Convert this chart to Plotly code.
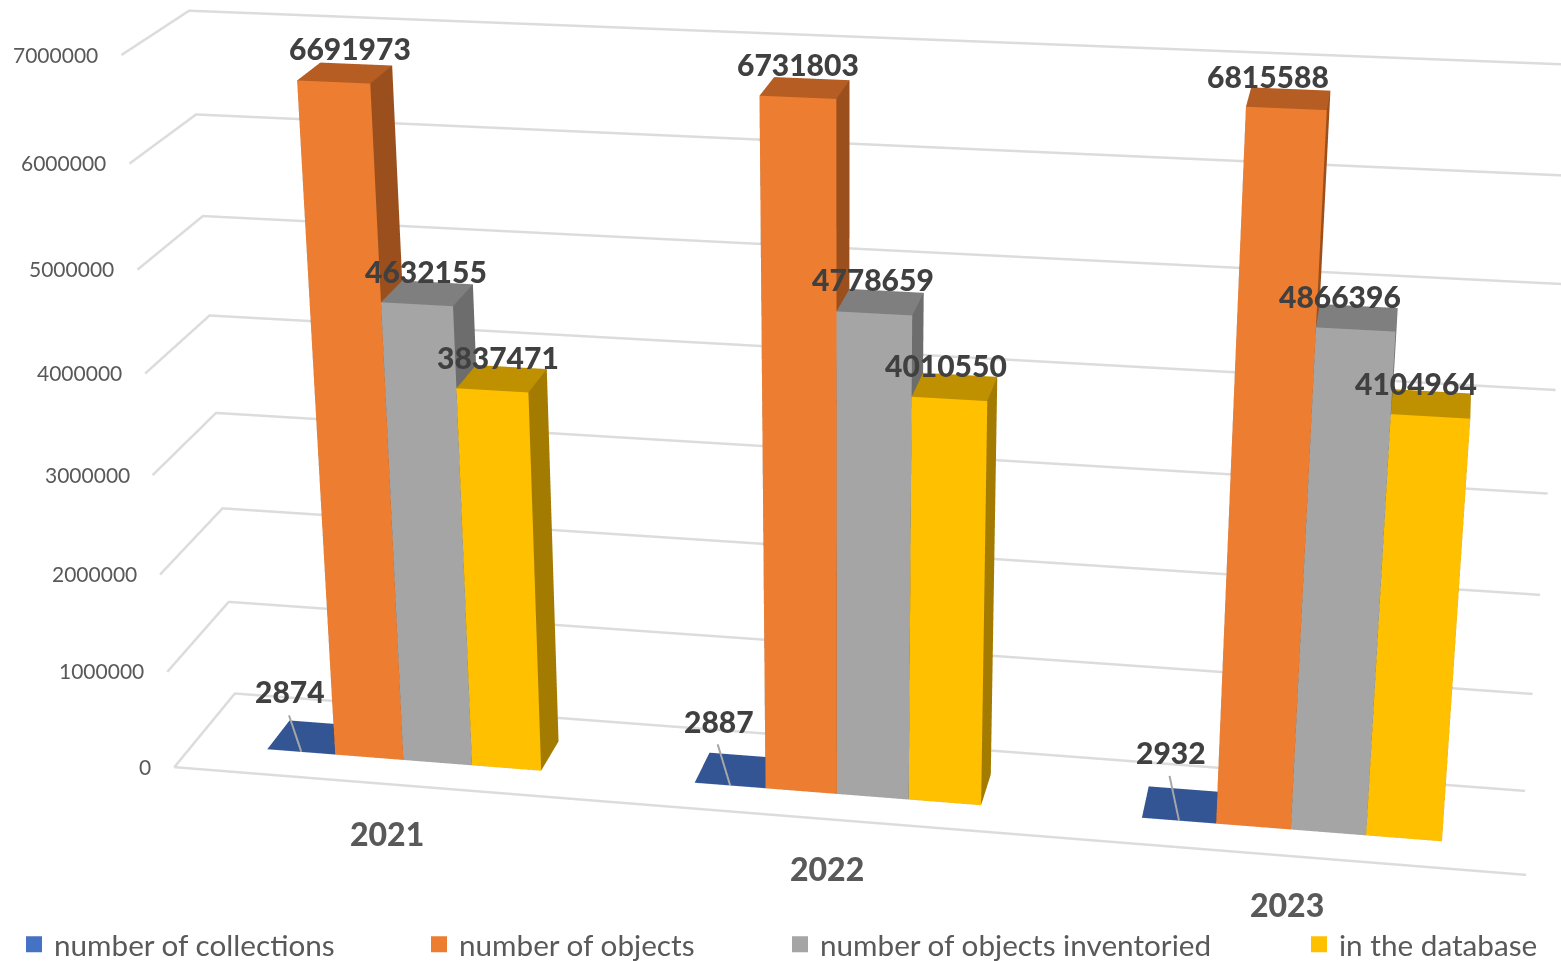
import plotly.graph_objects as go

years = ["2021", "2022", "2023"]
series_names = ["number of collections", "number of objects", "number of objects inventoried", "in the database"]
collections = [2874, 2887, 2932]
objects_total = [6691973, 6731803, 6815588]
inventoried = [4632155, 4778659, 4866396]
in_database = [3837471, 4010550, 4104964]
z_ticks = [0, 1000000, 2000000, 3000000, 4000000, 5000000, 6000000, 7000000]

series_values = [collections, objects_total, inventoried, in_database]
front_cols = ["#4472C4", "#ED7D31", "#A5A5A5", "#FFC000"]
top_cols = ["#335593", "#B55D22", "#7F7F7F", "#BF9000"]
side_cols = ["#2B4A80", "#9B4F1C", "#6D6D6D", "#A37B00"]
legend_cols = front_cols

BAR_W = 0.1614          # one bar, in category units
Y0, Y1 = 0.311, 0.6958  # depth of the bars
LAYOUT_H = 2909         # sets the lens: field of view is a fixed 45 degrees of the scene height
SHIFT = 974             # scene centre sits at the window centre


def py(y_px):
    return 1 - (y_px + SHIFT) / LAYOUT_H


QUADS = [(0, 1, 5, 4, "f"), (1, 2, 6, 5, "s"), (2, 3, 7, 6, "s"), (3, 0, 4, 7, "s"), (4, 5, 6, 7, "t"), (0, 3, 2, 1, "s")]

fig = go.Figure()

# gridlines: left wall, back wall, floor front edge
for t in z_ticks:
    xs, ys, zs = [0, 0, 3], [0, 1, 1], [t, t, t]
    if t == 0:
        xs, ys, zs = [3, 0, 0, 3], [0, 0, 1, 1], [0, 0, 0, 0]
    fig.add_trace(go.Scatter3d(x=xs, y=ys, z=zs, mode="lines", line=dict(color="#DCDCDC", width=5),
                               showlegend=False, hoverinfo="skip"))

for s, vals in enumerate(series_values):
    X, Y, Z, I, J, K, FC = [], [], [], [], [], [], []
    for g, v in enumerate(vals):
        x0 = g + 0.5 + (s - 2) * BAR_W
        x1 = x0 + BAR_W
        base = len(X)
        X += [x0, x1, x1, x0, x0, x1, x1, x0]
        Y += [Y0, Y0, Y1, Y1, Y0, Y0, Y1, Y1]
        Z += [0, 0, 0, 0, v, v, v, v]
        for a, b, c, d, kind in QUADS:
            col = {"f": front_cols[s], "t": top_cols[s], "s": side_cols[s]}[kind]
            I += [base + a, base + a]
            J += [base + b, base + c]
            K += [base + c, base + d]
            FC += [col, col]
    fig.add_trace(go.Mesh3d(x=X, y=Y, z=Z, i=I, j=J, k=K, facecolor=FC, flatshading=True, hoverinfo="skip",
                            name=series_names[s], showlegend=False,
                            lighting=dict(ambient=1, diffuse=0, specular=0, roughness=1, fresnel=0)))

# leader lines of the smallest series
LEADER_DX = [-0.024, -0.027, -0.024]
LEADER_Z = [380000, 420000, 450000]
for g in range(3):
    xc = g + 0.5 - 1.5 * BAR_W
    fig.add_trace(go.Scatter3d(x=[xc, xc + LEADER_DX[g]], y=[Y0, Y0], z=[collections[g], LEADER_Z[g]], mode="lines",
                               line=dict(color="#A6A6A6", width=4), showlegend=False, hoverinfo="skip"))

# legend entries, each in its own legend box to keep the source's uneven spacing
leg_ids = ["legend", "legend2", "legend3", "legend4"]
leg_left = [14, 419, 780, 1299]
for s in range(4):
    fig.add_trace(go.Scatter3d(x=[None], y=[None], z=[None], mode="markers", name=series_names[s], legend=leg_ids[s],
                               marker=dict(symbol="square", size=16, color=legend_cols[s]), hoverinfo="skip"))

anns = []
for t in z_ticks:
    anns.append(dict(x=0, y=0, z=t, text=str(t), showarrow=False, xanchor="right", yanchor="middle", xshift=-21,
                     yshift=1, font=dict(family="Lato", size=21, color="#595959")))
# pixel nudges of the data labels, per series and year
LABEL_DX = [[-22, -18, -11], [5, -7, -21], [-1, -7, -17], [-4, -9, -15]]
LABEL_DY = [[46, 49, 53], [25, 24, 23], [22, 23, 22], [22, 22, 21]]
for s, vals in enumerate(series_values):
    for g, v in enumerate(vals):
        anns.append(dict(x=g + 0.5 + (s - 1.5) * BAR_W, y=(Y0 + Y1) / 2, z=v, text=str(v), showarrow=False,
                         xanchor="center", yanchor="middle", xshift=LABEL_DX[s][g], yshift=LABEL_DY[s][g],
                         font=dict(family="Lato", size=30, color="#404040", weight=900)))
for g, yr in enumerate(years):
    anns.append(dict(x=g + 0.5, y=0, z=0, text=yr, showarrow=False, xanchor="center", yanchor="middle",
                     yshift=-49, font=dict(family="Lato", size=32, color="#595959", weight=900)))

hidden = dict(visible=False)
scene = dict(
    domain=dict(x=[0, 1], y=[0, 1]), bgcolor="white",
    xaxis=dict(range=[0, 3], **hidden), yaxis=dict(range=[0, 1], **hidden), zaxis=dict(range=[0, 7000000], **hidden),
    aspectmode="manual", aspectratio=dict(x=2.0, y=0.2751, z=1.0984),
    camera=dict(eye=dict(x=0.8221, y=-4.6781, z=1.7229), center=dict(x=-0.0736, y=-0.0939, z=-0.0425),
                up=dict(x=-0.0133, y=0.1024, z=1), projection=dict(type="perspective")),
    annotations=anns,
)
layout = dict(width=1561, height=LAYOUT_H, margin=dict(l=0, r=0, t=0, b=0, autoexpand=False), paper_bgcolor="white",
              scene=scene)
for s, lid in enumerate(leg_ids):
    layout[lid] = dict(x=leg_left[s] / 1561, y=py(944.5), xanchor="left", yanchor="middle", orientation="h",
                       bgcolor="rgba(0,0,0,0)", font=dict(family="Lato", size=29.7, color="#595959"), itemclick=False,
                       itemdoubleclick=False, itemsizing="trace")
fig.update_layout(**layout)

post = ("document.documentElement.style.overflow='hidden';document.body.style.overflow='hidden';"
        "document.body.style.margin='0';var g=document.getElementById('{plot_id}');"
        "g.style.position='absolute';g.style.left='0';g.style.top='-%dpx';" % SHIFT)
fig.write_html("out.html", config=dict(displayModeBar=False, responsive=False), post_script=post)
